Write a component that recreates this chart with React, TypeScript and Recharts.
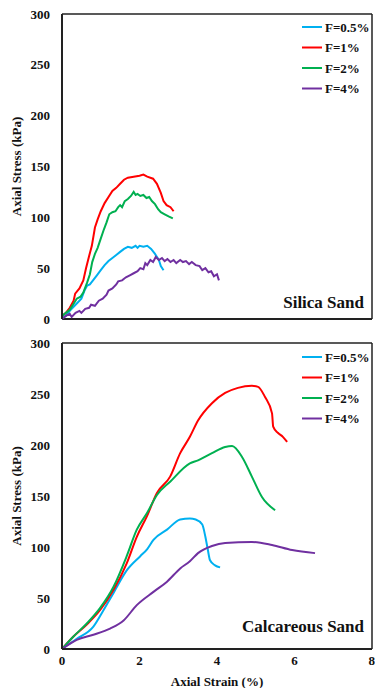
import React from 'react';
import {
    LineChart,
    Line,
    XAxis,
    YAxis,
    Legend,
    ReferenceLine,
} from 'recharts';

// strain (%), stress (kPa) pairs
const silica05 = [
    [0, 1], [0.1, 3], [0.2, 8], [0.3, 12], [0.4, 16], [0.5, 20], [0.58, 28], [0.65, 33],
    [0.72, 34], [0.8, 38], [0.9, 43], [1.0, 48], [1.1, 53], [1.2, 57], [1.3, 60], [1.4, 63],
    [1.5, 66], [1.6, 69], [1.7, 71], [1.8, 70], [1.9, 72], [1.95, 70], [2.0, 72], [2.1, 71],
    [2.2, 72], [2.3, 69], [2.4, 64], [2.5, 58], [2.55, 52], [2.62, 48],
];
const silica1 = [
    [0, 3], [0.1, 6], [0.2, 11], [0.3, 18], [0.34, 25], [0.45, 30], [0.55, 38], [0.62, 50],
    [0.7, 62], [0.77, 72], [0.85, 90], [0.92, 98], [1.0, 106], [1.1, 114], [1.2, 120],
    [1.3, 126], [1.4, 129], [1.5, 133], [1.6, 137], [1.7, 139], [1.85, 140], [2.0, 141],
    [2.1, 142], [2.2, 140], [2.35, 138], [2.45, 133], [2.55, 124], [2.62, 116], [2.7, 112],
    [2.8, 110], [2.88, 106],
];
const silica2 = [
    [0, 3], [0.1, 6], [0.2, 9], [0.3, 15], [0.38, 20], [0.48, 22], [0.55, 26], [0.65, 36],
    [0.72, 44], [0.78, 56], [0.85, 64], [0.92, 70], [1.0, 79], [1.08, 88], [1.15, 95],
    [1.22, 103], [1.3, 105], [1.38, 106], [1.45, 110], [1.5, 112], [1.55, 110], [1.62, 116],
    [1.7, 118], [1.78, 121], [1.85, 125], [1.9, 122], [1.95, 123], [2.02, 121], [2.1, 122],
    [2.18, 119], [2.25, 120], [2.32, 116], [2.4, 113], [2.48, 108], [2.55, 105], [2.65, 103],
    [2.75, 101], [2.86, 99],
];
const silica4 = [
    [0, 0], [0.1, 3], [0.2, 5], [0.25, 2], [0.35, 6], [0.45, 8], [0.5, 6], [0.6, 10],
    [0.7, 11], [0.75, 14], [0.85, 13], [0.95, 18], [1.05, 20], [1.15, 24], [1.2, 28],
    [1.3, 30], [1.4, 34], [1.45, 37], [1.55, 38], [1.65, 41], [1.75, 43], [1.85, 45],
    [1.95, 47], [2.02, 50], [2.1, 49], [2.15, 55], [2.2, 53], [2.28, 58], [2.35, 56],
    [2.42, 61], [2.5, 58], [2.58, 60], [2.65, 57], [2.72, 59], [2.8, 56], [2.88, 58],
    [2.95, 55], [3.05, 58], [3.12, 56], [3.2, 57], [3.28, 54], [3.35, 56], [3.45, 53],
    [3.55, 52], [3.62, 48], [3.7, 50], [3.78, 46], [3.85, 47], [3.92, 42], [4.0, 44], [4.05, 38],
];

const calc05 = [
    [0, 0], [0.38, 10], [0.81, 22], [1.07, 38], [1.33, 55], [1.67, 77], [2.02, 91], [2.2, 98],
    [2.36, 107], [2.71, 117], [3.05, 127], [3.3, 128], [3.45, 127], [3.62, 122], [3.7, 110],
    [3.76, 98], [3.82, 87], [3.95, 82], [4.08, 80],
];
const calc1 = [
    [0, 0], [0.29, 12], [0.64, 24], [0.98, 38], [1.33, 58], [1.67, 84], [1.93, 110],
    [2.19, 130], [2.45, 153], [2.79, 169], [3.05, 192], [3.3, 208], [3.51, 224], [3.87, 241],
    [4.21, 251], [4.54, 256], [4.9, 258], [5.06, 257], [5.24, 247], [5.42, 231], [5.45, 218],
    [5.57, 212], [5.7, 208], [5.81, 203],
];
const calc2 = [
    [0, 0], [0.29, 12], [0.64, 25], [0.98, 40], [1.33, 61], [1.67, 91], [1.93, 117],
    [2.19, 133], [2.45, 151], [2.79, 164], [3.3, 182], [3.51, 185], [3.87, 192], [4.21, 198],
    [4.39, 199], [4.65, 188], [4.9, 169], [5.16, 149], [5.5, 136],
];
const calc4 = [
    [0, 0], [0.38, 9], [0.81, 14], [1.24, 20], [1.59, 28], [1.93, 43], [2.36, 56], [2.71, 66],
    [3.05, 79], [3.3, 86], [3.51, 94], [3.87, 101], [4.21, 104], [4.9, 105], [5.42, 102],
    [5.94, 97], [6.53, 94],
];

const seriesNames = ['F=0.5%', 'F=1%', 'F=2%', 'F=4%'];
const seriesColors = ['#00B0F0', '#FF0000', '#00B050', '#7030A0'];
const stressTicks = [0, 50, 100, 150, 200, 250, 300];
const strainTicks = [0, 2, 4, 6, 8];

const FONT = '"Liberation Serif", "Times New Roman", serif';

const toPoints = (arr: number[][]) => arr.map(([x, y]) => ({ x, y }));

const renderLegend = () => (
    <svg width={75} height={82}>
        {seriesNames.map((name, i) => (
            <g key={name} transform={`translate(0, ${10 + i * 20.5})`}>
                <line x1={2} x2={22} y1={0} y2={0} stroke={seriesColors[i]} strokeWidth={2} />
                <text x={25} y={4.5} fontFamily={FONT} fontWeight="bold" fontSize={13} fill="#111">
                    {name}
                </text>
            </g>
        ))}
    </svg>
);

const yLabel = (props: any) => {
    const vb = props.viewBox || {};
    const cy = vb.y + vb.height / 2;
    return (
        <text
            x={0}
            y={0}
            transform={`translate(21, ${cy}) rotate(-90)`}
            textAnchor="middle"
            fontFamily={FONT}
            fontWeight="bold"
            fontSize={13}
            fill="#111"
        >
            Axial Stress (kPa)
        </text>
    );
};

const xLabel = (props: any) => {
    const vb = props.viewBox || {};
    return (
        <text
            x={vb.x + vb.width / 2}
            y={vb.y + 37}
            textAnchor="middle"
            fontFamily={FONT}
            fontWeight="bold"
            fontSize={13}
            fill="#111"
        >
            Axial Strain (%)
        </text>
    );
};

const tickStyle = { fontFamily: FONT, fontWeight: 'bold', fontSize: 13, fill: '#111' };

interface PanelProps {
    series: number[][][];
    showX: boolean;
    height: number;
    top: number;
    curve: 'linear' | 'monotone';
}

const Panel: React.FC<PanelProps> = ({ series, showX, height, top, curve }) => (
    <LineChart
        width={375}
        height={height}
        margin={{ top, right: 3, bottom: showX ? 0 : 11, left: 0 }}
    >
        <XAxis
            type="number"
            dataKey="x"
            domain={[0, 8]}
            ticks={strainTicks}
            hide={!showX}
            height={39}
            tickLine={false}
            tickSize={0}
            tickMargin={7}
            tick={tickStyle}
            axisLine={{ stroke: '#222', strokeWidth: 2 }}
            label={showX ? { content: xLabel } : undefined}
            allowDataOverflow
        />
        <YAxis
            type="number"
            domain={[0, 300]}
            ticks={stressTicks}
            width={62}
            tickLine={false}
            tickSize={0}
            tickMargin={12}
            tick={tickStyle}
            axisLine={{ stroke: '#222', strokeWidth: 2 }}
            label={{ content: yLabel }}
            interval={0}
        />
        {!showX && <ReferenceLine y={0} stroke="#222" strokeWidth={2} />}
        <ReferenceLine y={300} stroke="#222" strokeWidth={1.5} />
        <ReferenceLine x={8} stroke="#222" strokeWidth={1.5} />
        <Legend
            layout="vertical"
            align="center"
            verticalAlign="middle"
            content={renderLegend}
            wrapperStyle={{ position: 'absolute', top: 17, left: 300, width: 75, height: 82 }}
        />
        {series.map((s, i) => (
            <Line
                key={seriesNames[i]}
                data={toPoints(s)}
                dataKey="y"
                name={seriesNames[i]}
                type={curve}
                stroke={seriesColors[i]}
                strokeWidth={2}
                dot={false}
                isAnimationActive={false}
            />
        ))}
    </LineChart>
);

const App: React.FC = () => (
    <div style={{ position: 'absolute', left: 0, top: 0, width: 375, height: 688, background: '#fff' }}>
        <div style={{ position: 'absolute', left: 0, top: 0 }}>
            <Panel series={[silica05, silica1, silica2, silica4]} showX={false} height={330} top={14} curve="linear" />
        </div>
        <div style={{ position: 'absolute', left: 0, top: 330 }}>
            <Panel series={[calc05, calc1, calc2, calc4]} showX height={358} top={13} curve="monotone" />
        </div>
        <svg
            width={375}
            height={688}
            style={{ position: 'absolute', left: 0, top: 0, pointerEvents: 'none' }}
        >
            <text x={364} y={308} textAnchor="end" fontFamily={FONT} fontWeight="bold" fontSize={17} fill="#111">
                Silica Sand
            </text>
            <text x={364} y={632} textAnchor="end" fontFamily={FONT} fontWeight="bold" fontSize={17} fill="#111">
                Calcareous Sand
            </text>
        </svg>
    </div>
);

export default App;
